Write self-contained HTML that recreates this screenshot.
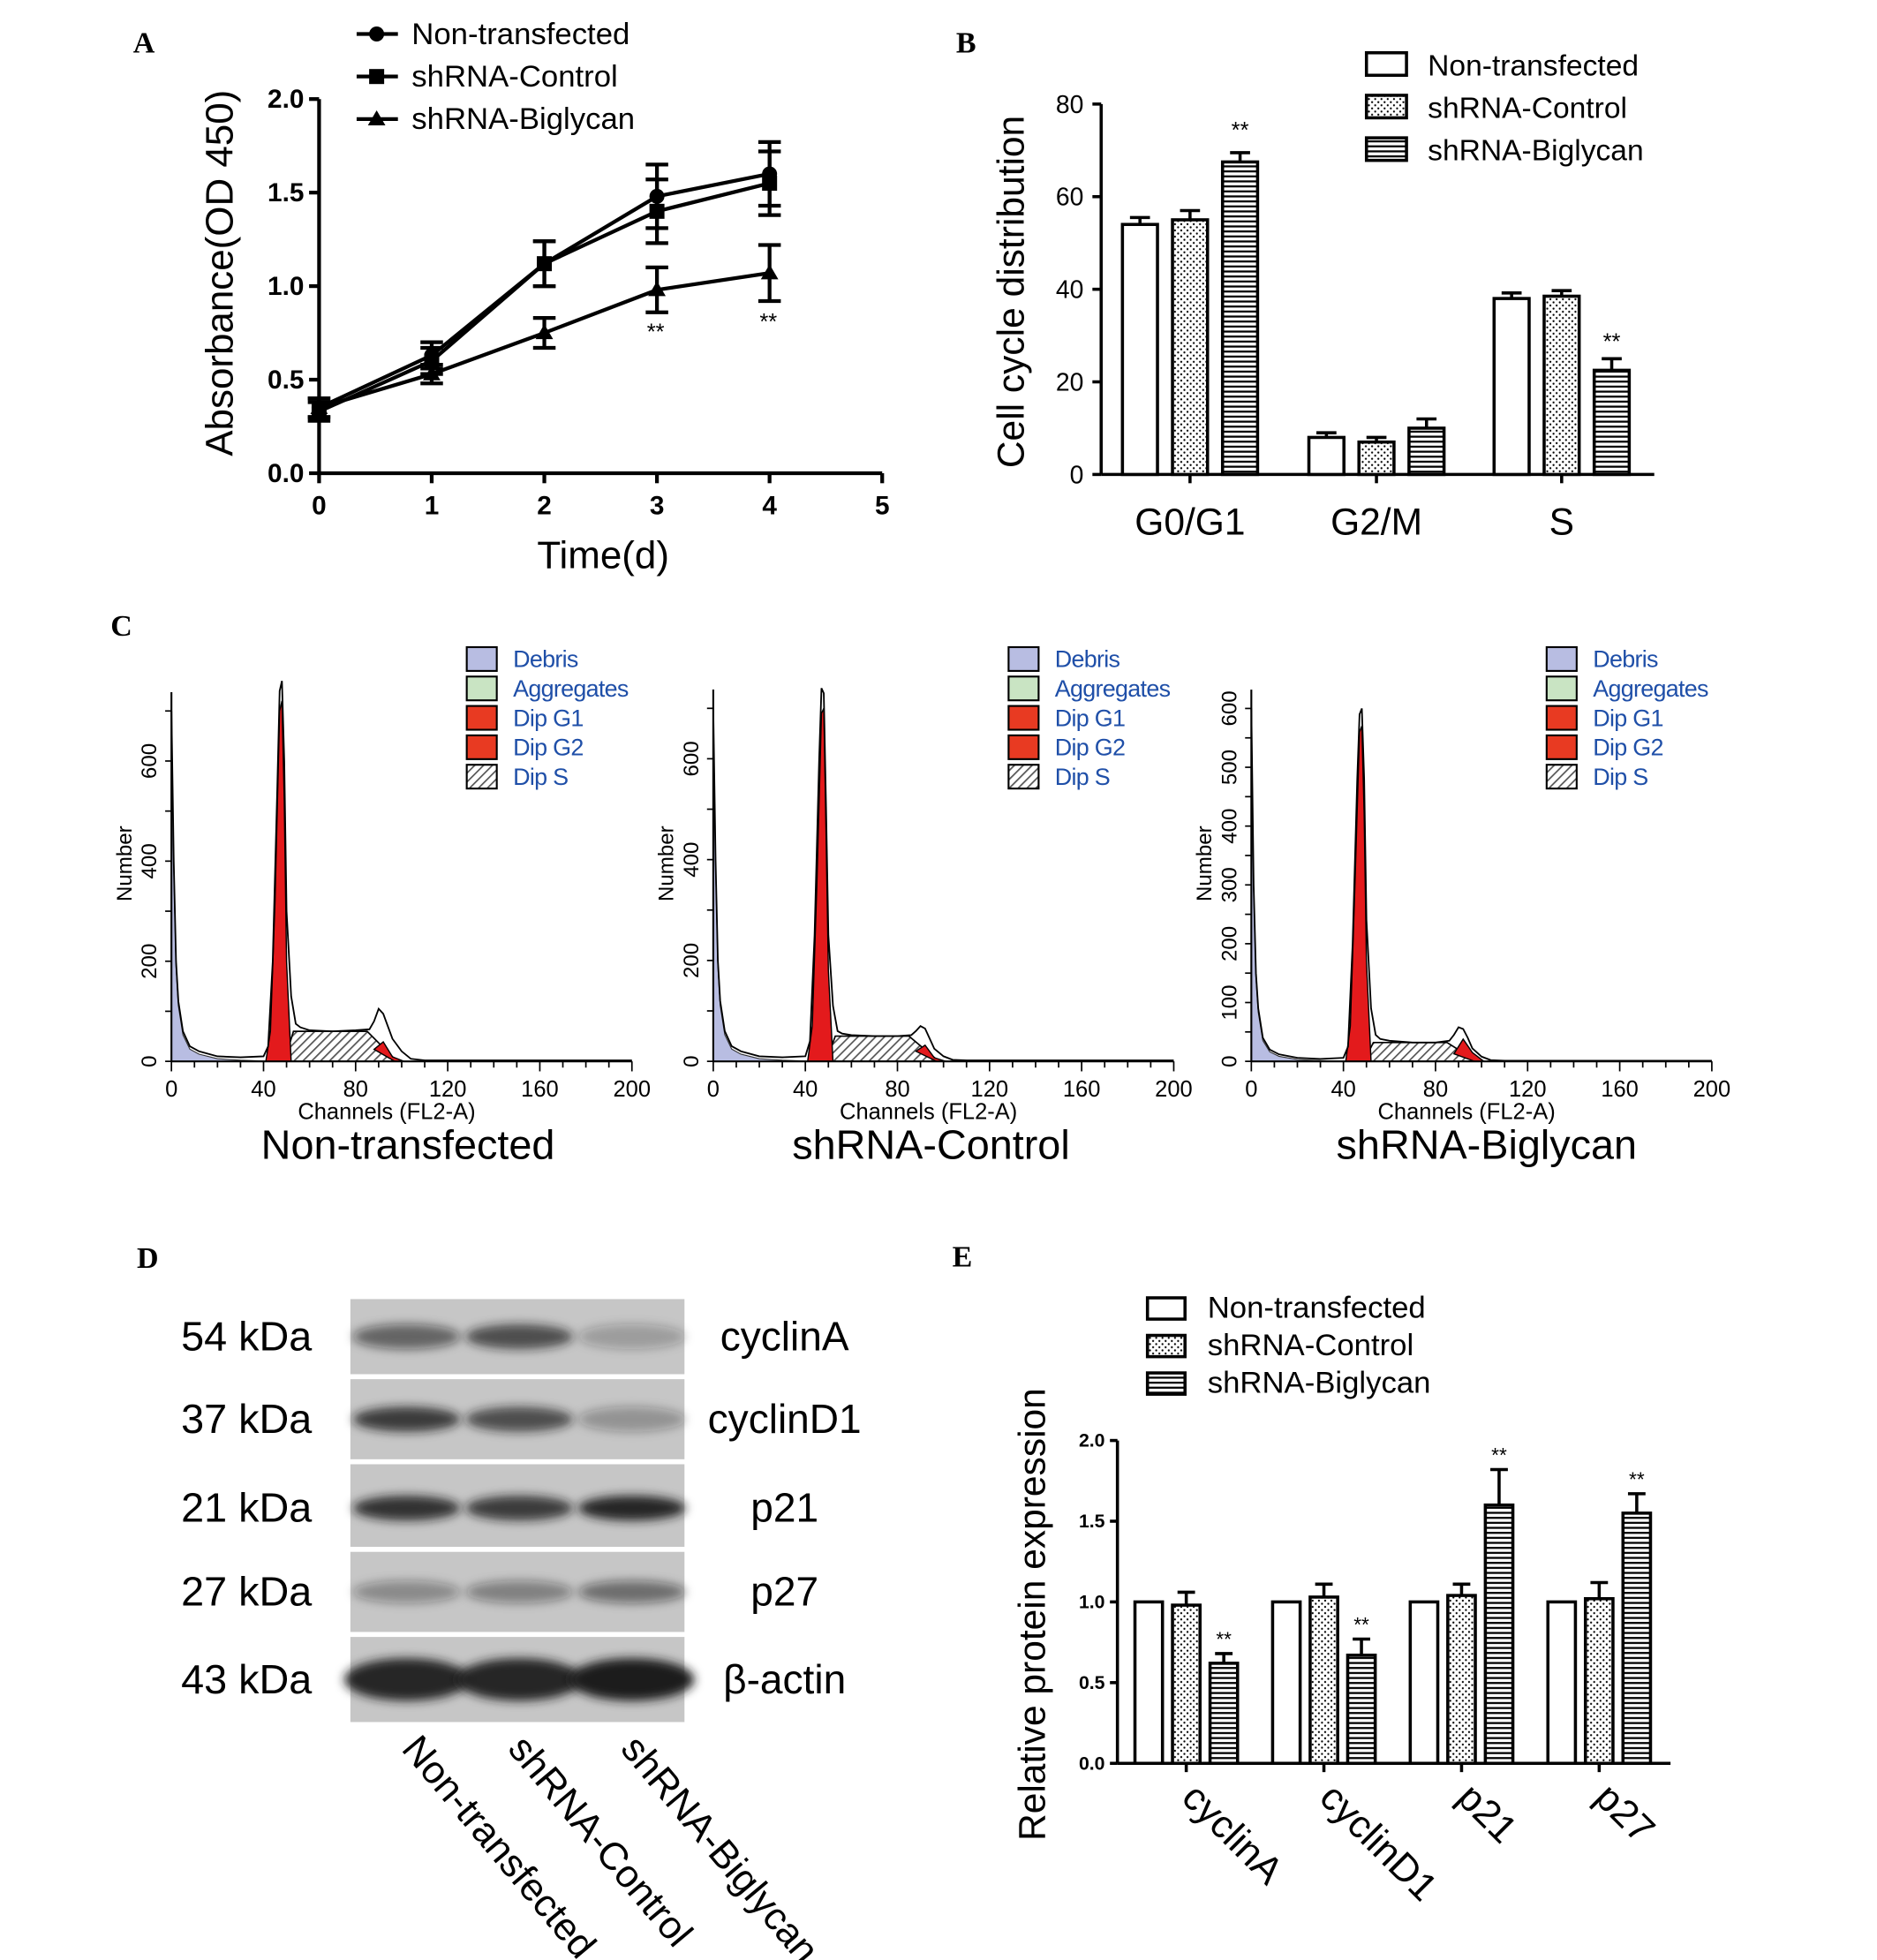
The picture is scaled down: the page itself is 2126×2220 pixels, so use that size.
<!DOCTYPE html>
<html><head><meta charset="utf-8"><style>
html,body{margin:0;padding:0;background:#fff;}
svg{display:block;}
text{font-family:"Liberation Sans",sans-serif;}
.ser{font-family:"Liberation Serif",serif;font-weight:bold;}
</style></head><body>
<svg id="fig" width="2126" height="2220" viewBox="0 0 1500 1566" xmlns="http://www.w3.org/2000/svg">
<defs>
<pattern id="dots" width="5" height="5" patternUnits="userSpaceOnUse"><rect width="5" height="5" fill="#fff"/><circle cx="1.5" cy="1.5" r="0.8" fill="#000"/><circle cx="4" cy="4" r="0.8" fill="#000"/></pattern>
<pattern id="hstripe" width="6" height="4" patternUnits="userSpaceOnUse"><rect width="6" height="4" fill="#fff"/><rect y="0" width="6" height="1.6" fill="#000"/></pattern>
<pattern id="diag" width="5" height="5" patternUnits="userSpaceOnUse" patternTransform="rotate(45)"><rect width="5" height="5" fill="#fff"/><rect width="1.2" height="5" fill="#555"/></pattern>
<filter id="blur" x="-30%" y="-100%" width="160%" height="300%"><feGaussianBlur stdDeviation="4"/></filter>
</defs>
<g id="root"></g>
</svg>
<script>
// Panel A data
const daysA=[0,1,2,3,4];
const nonA=[0.35,0.63,1.12,1.48,1.60];
const ctlA=[0.33,0.60,1.12,1.40,1.55];
const bgnA=[0.35,0.53,0.75,0.98,1.07];
const nonErr=[0.05,0.07,0.12,0.17,0.17];
const ctlErr=[0.05,0.07,0.12,0.17,0.17];
const bgnErr=[0.05,0.05,0.08,0.12,0.15];
const ticksAY=[0,0.5,1.0,1.5,2.0];
const ticksAX=[0,1,2,3,4,5];
// Panel B data
const phasesB=["G0/G1","G2/M","S"];
const nonB=[54,8,38];
const ctlB=[55,7,38.5];
const bgnB=[67.5,10,22.5];
const nonBErr=[1.5,1,1.2];
const ctlBErr=[2,1,1.2];
const bgnBErr=[2,2,2.5];
const ticksBY=[0,20,40,60,80];
// Panel C data (channels, counts)
const chC=[0,1,2,3,5,8,12,20,30,40,42,44,46,47,48,49,50,52,54,56,60,70,80,86,88,90,92,94,96,100,104,110,200];
const totC1=[700,400,200,120,60,30,20,10,8,10,30,200,550,740,760,600,300,130,75,68,62,60,62,64,80,105,95,70,45,20,5,2,2];
const totC2=[700,400,200,120,60,30,20,10,8,10,40,250,600,740,730,500,250,110,60,55,52,50,50,52,60,70,65,45,25,10,3,2,2];
const totC3=[600,300,150,90,40,20,12,6,4,6,25,200,480,590,600,480,240,90,45,38,35,32,32,35,45,58,55,40,22,8,2,1,1];
const g1Ch=[41,43,45,47,48,49,50,52];
const g1C1=[0,60,320,700,720,520,200,0];
const g1C2=[0,70,350,690,700,450,180,0];
const g1C3=[0,60,300,560,570,420,170,0];
const sC=[60,50,32]; // S plateau level
const g2C=[15,12,25];
const ticksC1=[0,200,400,600];
const ticksC3=[0,100,200,300,400,500,600];
const ticksCX=[0,40,80,120,160,200];
// Panel D band intensities (lanes)
const proteins=["cyclinA","cyclinD1","p21","p27","β-actin"];
const kdas=["54 kDa","37 kDa","21 kDa","27 kDa","43 kDa"];
const bandInt=[[0.55,0.7,0.25],[0.8,0.7,0.3],[0.85,0.8,0.95],[0.35,0.4,0.5],[0.95,0.95,1.0]];
// Panel E data
const protE=["cyclinA","cyclinD1","p21","p27"];
const nonE=[1,1,1,1];
const ctlE=[0.98,1.03,1.04,1.02];
const bgnE=[0.62,0.67,1.6,1.55];
const ctlEErr=[0.08,0.08,0.07,0.1];
const bgnEErr=[0.06,0.1,0.22,0.12];
const ticksEY=[0,0.5,1.0,1.5,2.0];

const NS="http://www.w3.org/2000/svg";
const root=document.getElementById('root');
function el(tag,attrs,parent,txt){const e=document.createElementNS(NS,tag);for(const k in attrs)e.setAttribute(k,attrs[k]);if(txt!==undefined)e.textContent=txt;(parent||root).appendChild(e);return e;}
function grp(name,parent){const g=el('g',{},parent);return g;}
function txt(name,x,y,s,attrs,parent){const t=el('text',Object.assign({x:x,y:y},attrs||{}),parent,s);return t;}

// Panel letters
[["A",115,42],["B",772,42],["C",97,508],["D",118,1013],["E",769,1012]].forEach(p=>{txt('panel-label-'+p[0].toLowerCase(),p[1],p[2],p[0],{class:'ser','font-size':24,'text-anchor':'middle'});});

// ---------- Panel A ----------
(function(){
const g=grp('panel-a-line-chart');
const xA=v=>255+v*90, yA=v=>378-v*149.5;
el('line',{x1:255,y1:378,x2:705,y2:378,stroke:'#000','stroke-width':3},g);
el('line',{x1:255,y1:378,x2:255,y2:79,stroke:'#000','stroke-width':3},g);
ticksAY.forEach(t=>{el('line',{x1:247,x2:255,y1:yA(t),y2:yA(t),stroke:'#000','stroke-width':3},g);txt('y-tick-label',243,yA(t)+7,t.toFixed(1),{'font-size':21,'font-weight':'bold','text-anchor':'end'},g);});
ticksAX.forEach(t=>{el('line',{x1:xA(t),x2:xA(t),y1:378,y2:386,stroke:'#000','stroke-width':3},g);txt('x-tick-label',xA(t),411,t,{'font-size':21,'font-weight':'bold','text-anchor':'middle'},g);});
txt('x-axis-title',482,454,'Time(d)',{'font-size':31,'text-anchor':'middle'},g);
txt('y-axis-title',186,218,'Absorbance(OD 450)',{'font-size':31,'text-anchor':'middle',transform:'rotate(-90 186 218)'},g);
const series=[[nonA,nonErr,'circle'],[ctlA,ctlErr,'square'],[bgnA,bgnErr,'triangle']];
series.forEach((s,i)=>{
 const sg=grp('series-'+['non-transfected','shrna-control','shrna-biglycan'][i],g);
 el('polyline',{points:daysA.map((d,j)=>xA(d)+','+yA(s[0][j])).join(' '),fill:'none',stroke:'#000','stroke-width':3},sg);
 daysA.forEach((d,j)=>{
  const x=xA(d),y=yA(s[0][j]),e=s[1][j]*149.5;
  el('line',{x1:x,x2:x,y1:y-e,y2:y+e,stroke:'#000','stroke-width':3},sg);
  el('line',{x1:x-9,x2:x+9,y1:y-e,y2:y-e,stroke:'#000','stroke-width':3},sg);
  el('line',{x1:x-9,x2:x+9,y1:y+e,y2:y+e,stroke:'#000','stroke-width':3},sg);
  let m;
  if(s[2]=='circle')m=el('circle',{cx:x,cy:y,r:6},sg);
  else if(s[2]=='square')m=el('rect',{x:x-6,y:y-6,width:12,height:12},sg);
  else m=el('polygon',{points:`${x},${y-7} ${x-7},${y+5} ${x+7},${y+5}`},sg);
  
 });
});
txt('significance',524,271,'**',{'font-size':18,'text-anchor':'middle'},g);
txt('significance',614,263,'**',{'font-size':18,'text-anchor':'middle'},g);
const lg=grp('legend',g);
['Non-transfected','shRNA-Control','shRNA-Biglycan'].forEach((n,i)=>{
 const y=27+i*34;
 el('line',{x1:285,x2:318,y1:y,y2:y,stroke:'#000','stroke-width':3},lg);
 if(i==0)el('circle',{cx:301,cy:y,r:6},lg);else if(i==1)el('rect',{x:295,y:y-6,width:12,height:12},lg);else el('polygon',{points:`301,${y-7} 294,${y+5} 308,${y+5}`},lg);
 txt('legend-entry',329,y+8,n,{'font-size':24.5},lg);
});
})();

// ---------- Panel B ----------
(function(){
const g=grp('panel-b-bar-chart');
const yB=v=>379-v*3.7;
const gx=[951,1100,1248];
el('line',{x1:880,y1:379,x2:1322,y2:379,stroke:'#000','stroke-width':2.5},g);
el('line',{x1:880,y1:379,x2:880,y2:83,stroke:'#000','stroke-width':2.5},g);
ticksBY.forEach(t=>{el('line',{x1:873,x2:880,y1:yB(t),y2:yB(t),stroke:'#000','stroke-width':2.5},g);txt('y-tick-label',866,yB(t)+7,t,{'font-size':20,'text-anchor':'end'},g);});
phasesB.forEach((p,i)=>{el('line',{x1:gx[i],x2:gx[i],y1:379,y2:386,stroke:'#000','stroke-width':2.5},g);txt('x-tick-label',gx[i],427,p,{'font-size':30,'text-anchor':'middle'},g);});
txt('y-axis-title',818,233,'Cell cycle distribution',{'font-size':30,'text-anchor':'middle',transform:'rotate(-90 818 233)'},g);
const fills=['#fff','url(#dots)','url(#hstripe)'];
[[nonB,nonBErr],[ctlB,ctlBErr],[bgnB,bgnBErr]].forEach((s,k)=>{
 phasesB.forEach((p,i)=>{
  const cx=gx[i]+(k-1)*40,v=s[0][i],e=s[1][i]*3.7;
  el('line',{x1:cx,x2:cx,y1:yB(v)-e,y2:yB(v),stroke:'#000','stroke-width':2.5},g);
  el('line',{x1:cx-8,x2:cx+8,y1:yB(v)-e,y2:yB(v)-e,stroke:'#000','stroke-width':2.5},g);
  const r=el('rect',{x:cx-14,y:yB(v),width:28,height:v*3.7,fill:fills[k],stroke:'#000','stroke-width':2.5},g);
  
 });
});
txt('significance',991,110,'**',{'font-size':18,'text-anchor':'middle'},g);
txt('significance',1288,279,'**',{'font-size':18,'text-anchor':'middle'},g);
const lg=grp('legend',g);
['Non-transfected','shRNA-Control','shRNA-Biglycan'].forEach((n,i)=>{
 const y=52+i*34;
 el('rect',{x:1092,y:y-10,width:32,height:18,fill:fills[i],stroke:'#000','stroke-width':2.5},lg);
 txt('legend-entry',1141,y+8,n,{'font-size':23.7},lg);
});
})();

// ---------- Panel C ----------
function flow(name,x0,yPerCount,tot,g1,sLev,g2,ticksY,label,labelX,tickStep){
 const g=grp(name);
 const px=c=>x0+c*1.84, py=n=>848-n*yPerCount;
 const dch=chC.filter(c=>c<=42);
 el('polygon',{points:px(0)+','+py(0)+' '+dch.map((c,i)=>px(c)+','+py(tot[i]*Math.max(0,1-c/42))).join(' ')+' '+px(42)+','+py(0),fill:'#b8bde2',stroke:'#333','stroke-width':0.8},g);
 el('polygon',{points:`${px(49)},${py(0)} ${px(53)},${py(sLev)} ${px(85)},${py(sLev)} ${px(98)},${py(0)}`,fill:'url(#diag)',stroke:'#000','stroke-width':1.2},g);
 el('polygon',{points:`${px(88)},${py(sLev*0.4)} ${px(92)},${py(sLev*0.4+g2)} ${px(96)},${py(g2*0.6)} ${px(101)},${py(0)} ${px(97)},${py(0)}`,fill:'#e31a1c',stroke:'#000','stroke-width':1},g);
 el('polygon',{points:g1Ch.map((c,i)=>px(c)+','+py(g1[i])).join(' '),fill:'#e31a1c',stroke:'#000','stroke-width':1},g);
 el('polyline',{points:chC.map((c,i)=>px(c)+','+py(tot[i])).join(' '),fill:'none',stroke:'#000','stroke-width':1.3},g);
 el('line',{x1:x0,y1:848,x2:px(200),y2:848,stroke:'#000','stroke-width':1.5},g);
 el('line',{x1:x0,y1:848,x2:x0,y2:py(tot[0])-15,stroke:'#000','stroke-width':1.5},g);
 for(let c=0;c<=200;c+=tickStep){el('line',{x1:px(c),x2:px(c),y1:848,y2:c%40==0?856:853,stroke:'#000','stroke-width':1.2},g);}
 ticksCX.forEach(c=>txt('x-tick-label',px(c),876,c,{'font-size':18,'text-anchor':'middle'},g));
 for(let n=0;n<=py(0);n+=(ticksY[1]-ticksY[0])/2){if(py(n)<py(tot[0])-10)break;el('line',{x1:x0-5,x2:x0,y1:py(n),y2:py(n),stroke:'#000','stroke-width':1.2},g);}
 ticksY.forEach(n=>txt('y-tick-label',x0-12,py(n),n,{'font-size':17,'text-anchor':'middle',transform:`rotate(-90 ${x0-12} ${py(n)})`},g));
 txt('x-axis-title',px(100)-12,894,'Channels (FL2-A)',{'font-size':18,'text-anchor':'middle'},g);
 txt('y-axis-title',x0-32,690,'Number',{'font-size':17,'text-anchor':'middle',transform:`rotate(-90 ${x0-32} 690)`},g);
 txt('sample-label',labelX,926,label,{'font-size':33,'text-anchor':'middle'},g);
 const lg=grp('legend',g);
 const lx=x0+236;
 [['Debris','#b8bde2'],['Aggregates','#c9e4c3'],['Dip G1','#e83a22'],['Dip G2','#e83a22'],['Dip S','url(#diag)']].forEach((d,i)=>{
  const y=517+i*23.5;
  el('rect',{x:lx,y:y,width:24,height:19,fill:d[1],stroke:'#000','stroke-width':1.5},lg);
  txt('legend-entry',lx+37,y+16,d[0],{'font-size':19,fill:'#1f4fa8','letter-spacing':'-0.5'},lg);
 });
}
flow('flow-histogram-non-transfected',137,0.4,totC1,g1C1,sC[0],g2C[0],ticksC1,'Non-transfected',326,10);
flow('flow-histogram-shrna-control',570,0.403,totC2,g1C2,sC[1],g2C[1],ticksC1,'shRNA-Control',744,10);
flow('flow-histogram-shrna-biglycan',1000,0.47,totC3,g1C3,sC[2],g2C[2],ticksC3,'shRNA-Biglycan',1188,10);

// ---------- Panel D ----------
(function(){
const g=grp('panel-d-western-blot');
const rows=[[1038,1098],[1102,1166],[1170,1236],[1240,1304],[1308,1376]];
const lanes=[325,415,505];
rows.forEach((r,i)=>{
 const rg=grp('blot-row-'+proteins[i],g);
 el('rect',{x:280,y:r[0],width:267,height:r[1]-r[0],fill:'#c6c6c6'},rg);
 const cy=(r[0]+r[1])/2+(i==2?2:0);
 lanes.forEach((lx,j)=>{
  const a=bandInt[i][j];
  const h=i==4?17:(i==3?9:10);
  const w=i==4?50:43;
  const b=el('ellipse',{cx:lx,cy:cy,rx:w,ry:h,fill:'#1a1a1a','fill-opacity':a,filter:'url(#blur)'},rg);
  
 });
 txt('kda-label',197,cy+11,kdas[i],{'font-size':33,'text-anchor':'middle'},g);
 txt('protein-label',627,cy+11,proteins[i],{'font-size':32.5,'text-anchor':'middle'},g);
});
[['Non-transfected',320],['shRNA-Control',405],['shRNA-Biglycan',495]].forEach(l=>{
 txt('lane-label',l[1],1398,l[0],{'font-size':31,transform:`rotate(50 ${l[1]} 1398)`},g);
});
})();

// ---------- Panel E ----------
(function(){
const g=grp('panel-e-bar-chart');
const yE=v=>1409-v*129;
const gx=[948,1058,1168,1278];
el('line',{x1:893,y1:1409,x2:1335,y2:1409,stroke:'#000','stroke-width':2.5},g);
el('line',{x1:893,y1:1409,x2:893,y2:1151,stroke:'#000','stroke-width':2.5},g);
ticksEY.forEach(t=>{el('line',{x1:887,x2:893,y1:yE(t),y2:yE(t),stroke:'#000','stroke-width':2.5},g);txt('y-tick-label',883,yE(t)+5,t.toFixed(1),{'font-size':15,'font-weight':'bold','text-anchor':'end'},g);});
txt('y-axis-title',835,1290,'Relative protein expression',{'font-size':30,'text-anchor':'middle',transform:'rotate(-90 835 1290)'},g);
const fills=['#fff','url(#dots)','url(#hstripe)'];
const errs=[[0,0,0,0],ctlEErr,bgnEErr];
[nonE,ctlE,bgnE].forEach((s,k)=>{
 protE.forEach((p,i)=>{
  const cx=gx[i]+(k-1)*30,v=s[i],e=errs[k][i]*129;
  if(e>0){el('line',{x1:cx,x2:cx,y1:yE(v)-e,y2:yE(v),stroke:'#000','stroke-width':2.5},g);
  el('line',{x1:cx-7,x2:cx+7,y1:yE(v)-e,y2:yE(v)-e,stroke:'#000','stroke-width':2.5},g);}
  const r=el('rect',{x:cx-11,y:yE(v),width:22,height:v*129,fill:fills[k],stroke:'#000','stroke-width':2.5},g);
  
  if(k==2)txt('significance',cx,yE(v)-e-6,'**',{'font-size':16,'text-anchor':'middle'},g);
 });
});
protE.forEach((p,i)=>{el('line',{x1:gx[i],x2:gx[i],y1:1409,y2:1416,stroke:'#000','stroke-width':2.5},g);txt('x-tick-label',gx[i]-5,1438,p,{'font-size':31,transform:`rotate(45 ${gx[i]-5} 1438)`},g);});
const lg=grp('legend',g);
['Non-transfected','shRNA-Control','shRNA-Biglycan'].forEach((n,i)=>{
 const y=1045+i*30;
 el('rect',{x:917,y:y-8,width:30,height:17,fill:fills[i],stroke:'#000','stroke-width':2.5},lg);
 txt('legend-entry',965,y+8,n,{'font-size':24.5},lg);
});
})();
</script>
</body></html>
